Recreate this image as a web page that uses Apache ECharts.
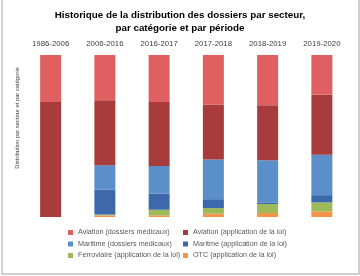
<!DOCTYPE html>
<html>
<head>
<meta charset="utf-8">
<script src="https://cdn.jsdelivr.net/npm/echarts@6/dist/echarts.min.js"></script>
<style>
  html, body { margin: 0; padding: 0; background: #fff; }
  #main { width: 360px; height: 276px; position: relative; }
  #frame { position: absolute; left: 1px; top: -2px; width: 355px; height: 273px; border: 2px solid #d0d0d0; pointer-events: none; }
</style>
</head>
<body>
<div id="main"></div>
<div id="frame"></div>
<script>
const periodes = ['1986-2006', '2006-2016', '2016-2017', '2017-2018', '2018-2019', '2019-2020'];
// parts en % (de haut en bas dans chaque barre)
const aviationMed = [29, 28, 29, 30.5, 31.5, 24.5];
const aviationLoi = [71, 40, 39.5, 34, 34, 37];
const maritimeMed = [0, 15, 17, 24.5, 26, 25];
const maritimeLoi = [0, 15.5, 10, 5.5, 1, 4.5];
const ferroviaireLoi = [0, 0.5, 3.5, 3.5, 5.5, 5.5];
const otcLoi = [0, 1, 1, 2, 2.5, 3.5];

const noms = [
    'Aviation (dossiers médicaux)', 'Aviation (application de la loi)',
    'Maritime (dossiers médicaux)', 'Maritme (application de la loi)',
    'Ferroviaire (application de la loi)', 'OTC (application de la loi)'
];
const couleurs = ['#E05F60', '#A83B3B', '#5B8FC9', '#3D68AB', '#9CBB58', '#F4954A'];
// ordre d'empilement: du bas vers le haut
const empilement = [
    [otcLoi, 5], [ferroviaireLoi, 4], [maritimeLoi, 3],
    [maritimeMed, 2], [aviationLoi, 1], [aviationMed, 0]
];

var myChart = echarts.init(document.getElementById('main'));
const FONT = 'Liberation Sans';

let legendStyle = {
    top: 224,
    orient: 'vertical',
    itemWidth: 5,
    itemHeight: 5,
    itemGap: 4.5,
    icon: 'rect',
    textStyle: { fontSize: 7.2, color: '#595959' }
};

let option = {
    animation: false,
    textStyle: { fontFamily: FONT },
    title: {
        text: 'Historique de la distribution des dossiers par secteur,\npar catégorie et par période',
        left: 'center',
        top: 4,
        textStyle: {
            fontSize: 9.8,
            fontWeight: 'bold',
            color: '#000',
            lineHeight: 13,
            fontFamily: FONT
        }
    },
    grid: {
        left: 23.5,
        right: 11,
        top: 55,
        bottom: 59
    },
    legend: [
        Object.assign({ left: 63, data: [noms[0], noms[2], noms[4]] }, legendStyle),
        Object.assign({ left: 178, data: [noms[1], noms[3], noms[5]] }, legendStyle)
    ],
    xAxis: {
        type: 'category',
        position: 'top',
        data: periodes,
        axisLine: { show: false },
        axisTick: { show: false },
        axisLabel: { color: '#404040', fontSize: 7.8, margin: 7 }
    },
    yAxis: {
        type: 'value',
        min: 0,
        max: 100,
        axisLine: { show: false },
        axisTick: { show: false },
        axisLabel: { show: false },
        splitLine: { show: false },
        name: 'Distribution par secteur et par catégorie',
        nameLocation: 'middle',
        nameGap: 3,
        nameTextStyle: { fontSize: 5.8, color: '#404040', padding: [0, 0, 0, 36] }
    },
    series: empilement.map(function (s) {
        return {
            name: noms[s[1]],
            type: 'bar',
            stack: 'total',
            barWidth: 21,
            data: s[0],
            itemStyle: { color: couleurs[s[1]] }
        };
    })
};

myChart.setOption(option);
myChart.resize();
</script>
</body>
</html>
